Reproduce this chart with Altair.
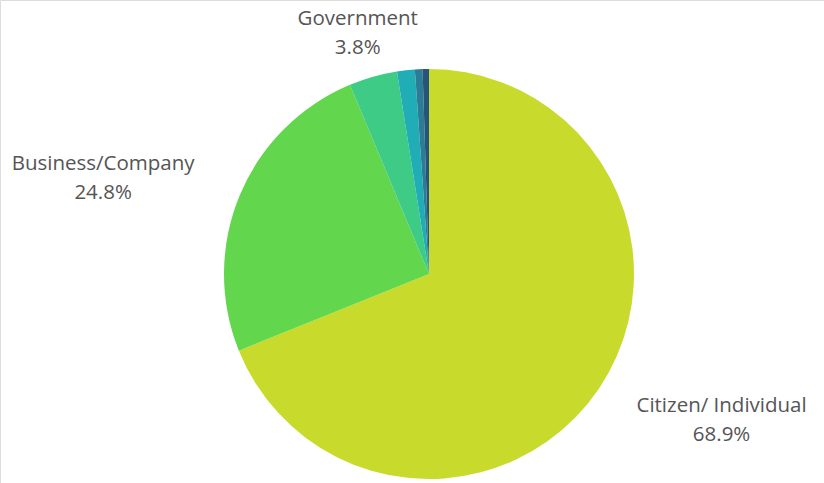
import altair as alt
import pandas as pd

categories = ["Citizen/ Individual", "Business/Company", "Government", "Other A", "Other B", "Other C"]
values = [68.9, 24.8, 3.8, 1.4, 0.6, 0.5]
colors = ["#c8db2c", "#62d64c", "#3ecb86", "#21adb5", "#2c7c98", "#27557a"]
label_names = ["Citizen/ Individual", "Business/Company", "Government"]

df = pd.DataFrame({"cat": categories, "val": values, "ord": list(range(len(values)))})

CX, CY, R = 429, 274, 205

base = alt.Chart(df).encode(
    theta=alt.Theta("val:Q", stack=True),
    order=alt.Order("ord:Q"),
)

pie = base.mark_arc(outerRadius=R, stroke=None).encode(
    x=alt.value(CX), y=alt.value(CY),
    color=alt.Color("cat:N", scale=alt.Scale(domain=categories, range=colors), legend=None),
)

label_r = {"Citizen/ Individual": 318, "Business/Company": 338, "Government": 250}
label_dx = {"Citizen/ Individual": 29, "Business/Company": -14, "Government": -3}
label_dy = {"Citizen/ Individual": -46, "Business/Company": 20, "Government": -14}
layers = [pie]
for name in label_names:
    t = base.mark_text(
        font="Open Sans", fontSize=20.5, color="#555555", lineBreak="\n", lineHeight=29,
        align="center", baseline="middle", radius=label_r[name],
        dx=label_dx[name], dy=label_dy[name],
    ).encode(
        x=alt.value(CX), y=alt.value(CY),
        text=alt.Text("lab:N"),
        opacity=alt.condition(alt.datum.cat == name, alt.value(1), alt.value(0)),
    ).transform_calculate(lab="datum.cat + '\\n' + format(datum.val, '.1f') + '%'")
    layers.append(t)

chart = alt.layer(*layers).properties(
    width=824, height=483, autosize=alt.AutoSizeParams(type="none"), padding=0
).configure_view(stroke=None).configure(background="white")

chart.save("out.html", embed_options={"renderer": "svg", "actions": False})
